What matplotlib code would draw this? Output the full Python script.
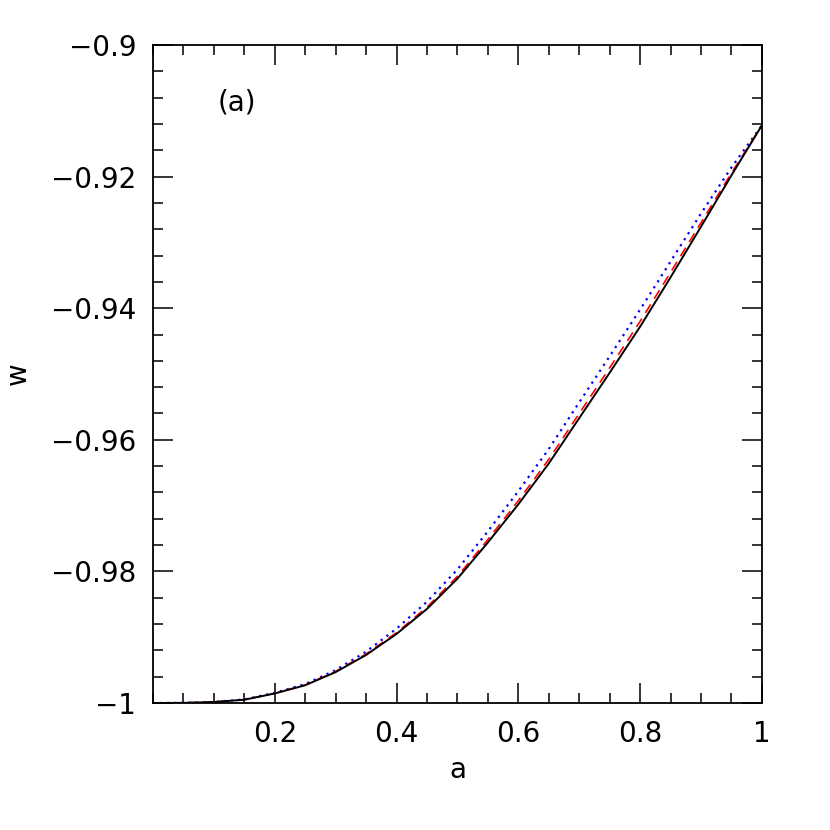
import matplotlib
matplotlib.use("Agg")
import matplotlib.pyplot as plt
from matplotlib.ticker import MultipleLocator, FuncFormatter

# scale factor a and equation of state w
a_vals = [0.0, 0.05, 0.1, 0.15, 0.2, 0.25, 0.3, 0.35, 0.4, 0.45, 0.5,
          0.55, 0.6, 0.65, 0.7, 0.75, 0.8, 0.85, 0.9, 0.95, 1.0]

w_solid = [-1.0, -0.99998, -0.99985, -0.9995, -0.99855, -0.9973, -0.9953,
           -0.9927, -0.9895, -0.9857, -0.9811, -0.9756, -0.9698, -0.9636,
           -0.9567, -0.9498, -0.9428, -0.9353, -0.9276, -0.9198, -0.9122]

w_dashed = [-1.0, -0.99998, -0.99985, -0.99949, -0.99853, -0.99725, -0.9952,
            -0.99255, -0.9893, -0.98543, -0.98075, -0.97515, -0.96925,
            -0.96297, -0.956, -0.94905, -0.942, -0.93455, -0.927, -0.91945,
            -0.9122]

w_dotted = [-1.0, -0.99998, -0.99984, -0.99946, -0.99845, -0.99712, -0.995,
            -0.9922, -0.9887, -0.9846, -0.9797, -0.9739, -0.9678, -0.9614,
            -0.9543, -0.9473, -0.9402, -0.9329, -0.9256, -0.9186, -0.9122]

x_ticks = [0.2, 0.4, 0.6, 0.8, 1.0]
y_ticks = [-1.0, -0.98, -0.96, -0.94, -0.92, -0.9]

plt.rcParams['font.family'] = ['DejaVu Sans']
plt.rcParams['axes.unicode_minus'] = True

fig = plt.figure(figsize=(8.3, 8.3), dpi=100)
ax = fig.add_axes([0.1843, 0.153, 0.7337, 0.7928])

ax.plot(a_vals, w_dotted, color='#0000ff', linestyle=(0, (1, 2.2)), lw=1.6)
ax.plot(a_vals, w_dashed, color='#ff0000', linestyle=(0, (6, 4)), lw=1.2)
ax.plot(a_vals, w_solid, color='black', linestyle='-', lw=1.4)

ax.set_xlim(0, 1)
ax.set_ylim(-1, -0.9)

ax.set_xticks(x_ticks)
ax.set_yticks(y_ticks)
ax.xaxis.set_minor_locator(MultipleLocator(0.05))
ax.yaxis.set_minor_locator(MultipleLocator(0.004))


def fmt(v, pos):
    s = ('%g' % round(v, 4))
    return s.replace('-', '\u2212')


ax.xaxis.set_major_formatter(FuncFormatter(fmt))
ax.yaxis.set_major_formatter(FuncFormatter(fmt))

ax.tick_params(which='both', direction='in', top=True, right=True,
               width=1.1, labelsize=20)
ax.tick_params(which='major', length=14.5)
ax.tick_params(which='minor', length=7.2)
ax.tick_params(axis='x', which='major', pad=12)
ax.tick_params(axis='y', which='major', pad=12)

for sp in ax.spines.values():
    sp.set_linewidth(1.3)

ax.set_xlabel('a', fontsize=20, labelpad=6)
ax.set_ylabel('w', fontsize=20, labelpad=14)

ax.text(0.138, 0.912, '(a)', transform=ax.transAxes, fontsize=20,
        ha='center', va='center')

fig.savefig('out.png', dpi=100)
